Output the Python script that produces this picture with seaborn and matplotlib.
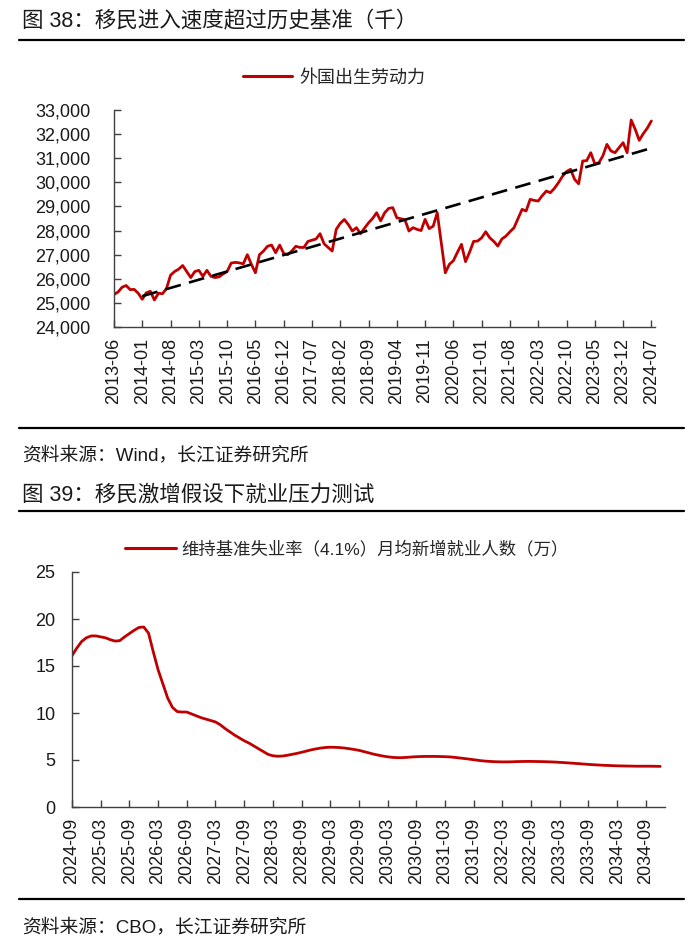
import numpy as np
import pandas as pd
import matplotlib
matplotlib.use("Agg")
import matplotlib.pyplot as plt
from matplotlib.lines import Line2D
import seaborn as sns

# ---------------- data ----------------
months_top = [str(p) for p in pd.period_range("2013-06", "2024-07", freq="M")]
foreign_labor = [
    25350, 25450, 25650, 25720, 25550, 25560, 25400, 25150, 25420, 25480,
    25120, 25400, 25380, 25600, 26150, 26300, 26400, 26550, 26300, 26050,
    26300, 26350, 26100, 26350, 26100, 26050, 26080, 26200, 26300, 26650,
    26680, 26660, 26620, 27000, 26600, 26250, 27000, 27150, 27350, 27400,
    27080, 27400, 27050, 27000, 27150, 27350, 27300, 27300, 27550, 27600,
    27650, 27870, 27450, 27300, 27150, 28050, 28300, 28460, 28250, 27980,
    28120, 27870, 28100, 28320, 28500, 28740, 28400, 28740, 28920, 28950,
    28530, 28490, 28450, 27980, 28120, 28050, 28000, 28465, 28080, 28180,
    28740, 27500, 26250, 26600, 26750, 27100, 27430, 26710, 27100, 27550,
    27565, 27700, 27950, 27700, 27550, 27357, 27650, 27770, 27950, 28117,
    28500, 28880, 28810, 29295, 29250, 29225, 29450, 29640, 29570, 29750,
    29985, 30250, 30450, 30540, 30125, 29940, 30885, 30900, 31230, 30770,
    30810, 31100, 31575, 31300, 31230, 31440, 31645, 31230, 32585, 32200,
    31740, 32020, 32250, 32545,
]
trend_months = ["2014-01", "2024-07"]
trend_values = [25280, 31420]
top_yticks = [24000, 25000, 26000, 27000, 28000, 29000, 30000, 31000, 32000, 33000]

months_bot = [str(p) for p in pd.period_range("2024-09", "2034-12", freq="M")]
new_jobs = [
    16.1, 16.9, 17.6, 18.0, 18.2, 18.2, 18.1, 18.0, 17.8, 17.65,
    17.7, 18.1, 18.45, 18.8, 19.1, 19.15, 18.5, 16.5, 14.6, 13.1,
    11.6, 10.6, 10.15, 10.1, 10.1, 9.9, 9.7, 9.5, 9.35, 9.2,
    9.05, 8.75, 8.35, 8.0, 7.65, 7.35, 7.05, 6.8, 6.5, 6.2,
    5.9, 5.6, 5.45, 5.4, 5.42, 5.5, 5.6, 5.7, 5.82, 5.95,
    6.08, 6.18, 6.27, 6.33, 6.36, 6.35, 6.32, 6.27, 6.2, 6.12,
    6.03, 5.9, 5.77, 5.63, 5.52, 5.42, 5.34, 5.28, 5.25, 5.25,
    5.28, 5.32, 5.35, 5.37, 5.38, 5.38, 5.38, 5.37, 5.35, 5.33,
    5.28, 5.22, 5.16, 5.1, 5.03, 4.96, 4.9, 4.86, 4.83, 4.81,
    4.8, 4.8, 4.81, 4.83, 4.84, 4.85, 4.85, 4.84, 4.83, 4.82,
    4.8, 4.78, 4.75, 4.72, 4.68, 4.65, 4.61, 4.57, 4.53, 4.5,
    4.47, 4.44, 4.42, 4.4, 4.38, 4.37, 4.36, 4.35, 4.34, 4.34,
    4.34, 4.34, 4.33, 4.32,
]
bot_yticks = [0, 5, 10, 15, 20, 25]

title_top = "图 38：移民进入速度超过历史基准（千）"
title_bot = "图 39：移民激增假设下就业压力测试"
legend_top = "外国出生劳动力"
legend_bot = "维持基准失业率（4.1%）月均新增就业人数（万）"
source_top = "资料来源：Wind，长江证券研究所"
source_bot = "资料来源：CBO，长江证券研究所"

# ---------------- style ----------------
sns.set_theme(style="ticks")
plt.rcParams["font.family"] = ["Liberation Sans", "Noto Sans CJK SC", "DejaVu Sans"]
plt.rcParams["axes.unicode_minus"] = False

RED = "#C00000"
SPINE = "#404040"
W, H = 700, 949

fig = plt.figure(figsize=(7.0, 9.49), dpi=100)


def fx(px):
    return px / W


def fy(py):
    return 1 - py / H


# ---------- top chart ----------
ax1 = fig.add_axes([fx(114), fy(327), fx(540.6), (327 - 110) / H])
df_top = pd.DataFrame({"idx": np.arange(len(months_top)), "val": foreign_labor})
sns.lineplot(data=df_top, x="idx", y="val", ax=ax1, color=RED, linewidth=2.0)
trend_idx = [months_top.index(m) for m in trend_months]
df_tr = pd.DataFrame({"idx": trend_idx, "val": trend_values})
sns.lineplot(data=df_tr, x="idx", y="val", ax=ax1, color="black", linewidth=1.9)
ax1.lines[-1].set_dashes([6, 3.2])
ax1.set_xlim(0, 133.8)
ax1.set_ylim(24000, 33000)
ax1.set_yticks(top_yticks)
ax1.set_yticklabels([f"{v:,}" for v in top_yticks])
xt = list(range(0, len(months_top), 7))
ax1.set_xticks(xt)
ax1.set_xticklabels([months_top[i] for i in xt], rotation=90)
ax1.tick_params(axis="y", direction="in", length=5, width=1, color=SPINE, labelsize=13, pad=17)
ax1.tick_params(axis="x", direction="in", length=5, width=1, color=SPINE, labelsize=13, pad=8)

# ---------- bottom chart ----------
ax2 = fig.add_axes([fx(72), fy(807), fx(665 - 72), (807 - 572) / H])
df_bot = pd.DataFrame({"idx": np.arange(len(months_bot)), "val": new_jobs})
sns.lineplot(data=df_bot, x="idx", y="val", ax=ax2, color=RED, linewidth=2.0)
ax2.set_xlim(0, 124)
ax2.set_ylim(0, 25)
ax2.set_yticks(bot_yticks)
ax2.set_yticklabels([str(v) for v in bot_yticks])
xt2 = list(range(0, len(months_bot), 6))
ax2.set_xticks(xt2)
ax2.set_xticklabels([months_bot[i] for i in xt2], rotation=90)
ax2.tick_params(axis="y", direction="in", length=5, width=1, color=SPINE, labelsize=13, pad=12)
ax2.tick_params(axis="x", direction="in", length=5, width=1, color=SPINE, labelsize=13, pad=8)

for ax in (ax1, ax2):
    sns.despine(ax=ax)
    for s in ("left", "bottom"):
        ax.spines[s].set_color(SPINE)
        ax.spines[s].set_linewidth(1)
    ax.set_xlabel("")
    ax.set_ylabel("")
    for lab in ax.get_xticklabels() + ax.get_yticklabels():
        lab.set_color("#1a1a1a")

# ---------- legends ----------
h_top = [Line2D([0], [0], color=RED, linewidth=2.2)]
fig.legend(h_top, [legend_top], loc="center", bbox_to_anchor=(fx(334), fy(78)),
           frameon=False, fontsize=13, handlelength=2.7, handletextpad=0.4)
h_bot = [Line2D([0], [0], color=RED, linewidth=2.2)]
fig.legend(h_bot, [legend_bot], loc="center", bbox_to_anchor=(fx(347), fy(549)),
           frameon=False, fontsize=12.5, handlelength=2.9, handletextpad=0.35)

# ---------- titles, rules, sources ----------
fig.text(fx(22), fy(22), title_top, fontsize=15.5, va="center", ha="left", color="#1a1a1a")
fig.text(fx(22), fy(455), source_top, fontsize=13.5, va="center", ha="left", color="#1a1a1a")
fig.text(fx(22), fy(495), title_bot, fontsize=15.5, va="center", ha="left", color="#1a1a1a")
fig.text(fx(22), fy(927), source_bot, fontsize=13.5, va="center", ha="left", color="#1a1a1a")

for yy in (40, 428, 511, 899):
    fig.add_artist(Line2D([fx(19), fx(684)], [fy(yy), fy(yy)], color="black", linewidth=1.6,
                          transform=fig.transFigure))

fig.savefig("out.png", dpi=100)
